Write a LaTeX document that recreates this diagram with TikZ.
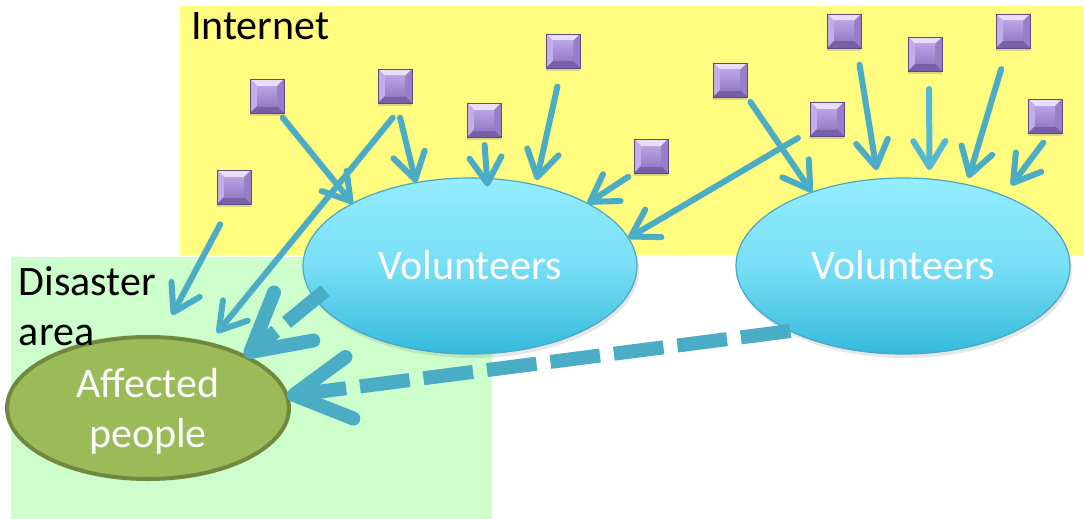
\documentclass[tikz,border=0pt]{standalone}
\usepackage{fontspec}
\setmainfont{Carlito}
\usetikzlibrary{arrows.meta,calc,shadows,shapes.geometric}
\definecolor{yel}{RGB}{255,252,128}
\definecolor{grn}{RGB}{204,255,204}
\definecolor{arr}{RGB}{75,172,198}
\definecolor{arrL}{RGB}{84,184,212}
\definecolor{cyT}{RGB}{148,237,255}
\definecolor{cyM}{RGB}{120,222,246}
\definecolor{cyB}{RGB}{52,186,220}
\definecolor{cyD}{RGB}{72,168,198}
\definecolor{olF}{RGB}{155,187,89}
\definecolor{olD}{RGB}{113,137,63}
\definecolor{puF}{RGB}{168,142,212}
\definecolor{puFT}{RGB}{186,164,228}
\definecolor{puFB}{RGB}{150,124,198}
\definecolor{puT}{RGB}{232,222,250}
\definecolor{puL}{RGB}{194,174,232}
\definecolor{puR}{RGB}{152,126,200}
\definecolor{puB}{RGB}{120,96,166}
\definecolor{puD}{RGB}{94,74,130}
\begin{document}
\begin{tikzpicture}[x=1pt,y=-1pt,
  txt/.style={font=\fontsize{42}{50}\selectfont, inner sep=0pt, outer sep=0pt},
  vol/.style={ellipse, minimum width=334pt, minimum height=176pt, inner sep=0pt, outer sep=0pt,
    draw=cyD, line width=1.2pt, top color=cyT, bottom color=cyB, middle color=cyM,
    drop shadow={opacity=0.2, shadow xshift=2pt, shadow yshift=-4pt},
    text=white, font=\fontsize{42}{50}\selectfont, text height=27pt, text depth=0pt},
  aff/.style={ellipse, minimum width=282pt, minimum height=142pt, inner sep=0pt, outer sep=0pt,
    draw=olD, line width=4pt, fill=olF},
  sq/.style={rectangle, minimum size=34pt, inner sep=0pt, outer sep=0pt, fill=puF,
    drop shadow={opacity=0.3, shadow xshift=0pt, shadow yshift=-3pt}},
  ar/.style={draw=arr, line width=6pt, line cap=round, -{Straight Barb[length=26pt,width=32pt,round]}},
  bigar/.style={draw=arr, line width=14pt, dash pattern=on 50pt off 14pt,
    -{Straight Barb[length=56pt,width=62pt,round]}}
]
\useasboundingbox (0,0) rectangle (1084,519);
\fill[yel] (180,6) rectangle (1084,255);
\fill[grn] (11,257) rectangle (492,519);

\node[aff] (aff) at (148,408) {};
\node[vol] (v1) at (470,266) {Volunteers};
\node[vol] (v2) at (903,266) {Volunteers};

\node[sq] (s1) at (267,96) {};
\node[sq] (s2) at (395,86) {};
\node[sq] (s3) at (484,120) {};
\node[sq] (s4) at (563,51) {};
\node[sq] (s5) at (234,187) {};
\node[sq] (s6) at (651,156) {};
\node[sq] (s7) at (730,80) {};
\node[sq] (s8) at (827,119) {};
\node[sq] (s9) at (844,31) {};
\node[sq] (s10) at (925,54) {};
\node[sq] (s11) at (1013,31) {};
\node[sq] (s12) at (1045,116) {};
\foreach \n in {s1,s2,s3,s4,s5,s6,s7,s8,s9,s10,s11,s12}{
  \fill[puT] (\n.north west) -- (\n.north east) -- ($(\n.north east)+(-7pt,-7pt)$) -- ($(\n.north west)+(7pt,-7pt)$) -- cycle;
  \fill[puL] (\n.north west) -- (\n.south west) -- ($(\n.south west)+(7pt,7pt)$) -- ($(\n.north west)+(7pt,-7pt)$) -- cycle;
  \fill[puR] (\n.north east) -- (\n.south east) -- ($(\n.south east)+(-7pt,7pt)$) -- ($(\n.north east)+(-7pt,-7pt)$) -- cycle;
  \fill[puB] (\n.south west) -- (\n.south east) -- ($(\n.south east)+(-7pt,7pt)$) -- ($(\n.south west)+(7pt,7pt)$) -- cycle;
  \shade[top color=puFT, bottom color=puFB] ($(\n.north west)+(7pt,-7pt)$) rectangle ($(\n.south east)+(-7pt,7pt)$);
  \draw[puD, line width=0.8pt] (\n.north west) rectangle (\n.south east);
}

\coordinate (t2) at (217,333);
\coordinate (t6) at (172,315);

\draw[ar, shorten <=6pt] (s1.-55) -- (v1.152);
\draw[ar, shorten <=19pt] (s2.-60) -- (t2);
\draw[ar, shorten <=15pt] (s2.-85) -- (v1.123);
\draw[ar, shorten <=8pt, shorten >=-8pt] (s3.south) -- (v1.79);
\draw[ar, shorten <=19pt, shorten >=5pt] (s4.-95) -- (v1.51);
\draw[ar, shorten <=23pt] (s5.-100) -- (t6);
\draw[ar, shorten <=7pt] (s6.south west) -- (v1.28);
\draw[ar, shorten <=6pt] (s7.south east) -- (v2.141);
\draw[ar, shorten <=14pt] (s8.215) -- (v1.10);
\draw[ar, shorten <=17pt, shorten >=9pt] (s9.-53) -- (v2.106);
\draw[ar, draw=arrL, shorten <=18pt, shorten >=9pt] (s10.-77) -- (v2.73);
\draw[ar, shorten <=22pt, shorten >=7pt] (s11.-108) -- (v2.52);
\draw[ar, shorten <=12pt, shorten >=13pt] (s12.-72) -- (v2.35);

\draw[bigar] (v2.210) -- (aff.5);
\draw[bigar] ($(v1.192)!-13pt!(aff.28)$) -- (aff.28);

\node[txt, anchor=base west] (tint) at (191,40) {Internet};
\node[txt, anchor=base west] (tdis) at (19,295) {Disaster};
\node[txt, anchor=base west] (tarea) at (19,345) {area};
\node[txt, anchor=base, text=white] (taff1) at (148,397) {Affected};
\node[txt, anchor=base, text=white] (taff2) at (148,447) {people};
\end{tikzpicture}
\end{document}
